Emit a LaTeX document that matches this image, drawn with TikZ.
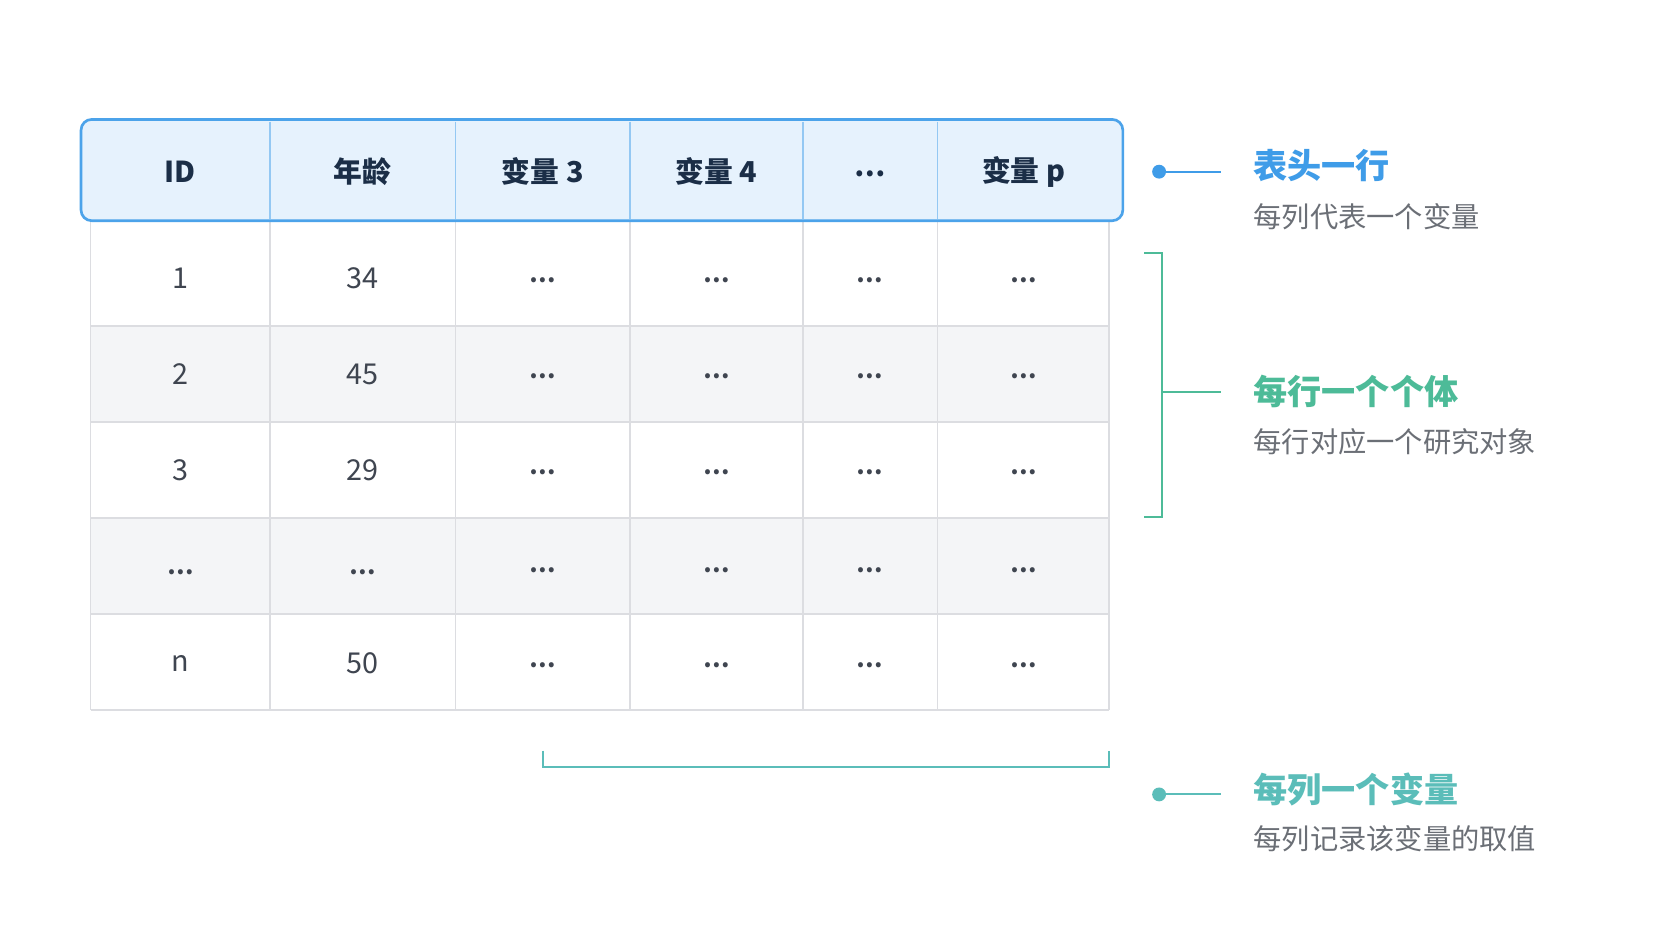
\documentclass[tikz,border=0pt]{standalone}
\usepackage{fontspec}
\setmainfont{Noto Sans CJK SC}
\definecolor{hdrfill}{HTML}{E6F2FD}
\definecolor{hdrline}{HTML}{4CA3EA}
\definecolor{grid}{HTML}{DCDDE1}
\definecolor{altfill}{HTML}{F4F5F7}
\definecolor{hdrtext}{HTML}{1B2E47}
\definecolor{celltext}{HTML}{3F4550}
\definecolor{blueacc}{HTML}{3F9CE8}
\definecolor{greenacc}{HTML}{4DBB98}
\definecolor{tealacc}{HTML}{5BBDB9}
\definecolor{subtext}{HTML}{6B6F76}
\begin{document}
\begin{tikzpicture}[x=1pt,y=-1pt,
  hdr/.style={font=\fontsize{27}{30}\selectfont\bfseries, text=hdrtext},
  cell/.style={font=\fontsize{27}{30}\selectfont, text=celltext},
  dots/.style={font=\fontsize{22}{24}\selectfont\bfseries, text=celltext},
  ttl/.style={anchor=west,font=\fontsize{32}{35}\selectfont\bfseries},
  sub/.style={anchor=west,font=\fontsize{26.5}{29}\selectfont, text=subtext},
  acc/.style={line width=2pt}]
\fill[white] (0,0) rectangle (1568,882);
\useasboundingbox (0,0) rectangle (1568,882);
% body rows
\fill[altfill] (85,306) rectangle (1040,396);
\fill[altfill] (85,486) rectangle (1040,576);
\foreach \y in {306,396,486,576,666} \draw[grid,line width=1.5pt] (85,\y) -- (1040,\y);
\foreach \x in {85,253,427,591,753,879,1040} \draw[grid,line width=1.5pt] (\x,207) -- (\x,666);
% header
\fill[hdrfill,rounded corners=10pt] (76,112) rectangle (1053,207);
\foreach \x in {253,427,591,753,879} \draw[hdrline!60,line width=1.5pt] (\x,114) -- (\x,205);
\draw[hdrline,line width=2.5pt,rounded corners=10pt] (76,112) rectangle (1053,207);
% texts
\node[hdr] (h1) at (169,161) {ID};
\node[hdr] (h2) at (340,161) {年龄};
\node[hdr] (h3) at (509,161) {变量 3};
\node[hdr] (h4) at (672,161) {变量 4};
\node[dots,font=\fontsize{26}{28}\selectfont\bfseries,text=hdrtext] (h5) at (816,163) {…};
\node[hdr] (h6) at (960,161) {变量 p};
\foreach \y/\a/\b [count=\i] in {261/1/34,351/2/45,441/3/29,622/n/50}{
  \node[cell] (r\i c1) at (169,\y) {\a};
  \node[cell] (r\i c2) at (340,\y) {\b};
  \foreach \x [count=\j from 3] in {509,672,816,960}
    \node[dots] (r\i c\j) at (\x,\y+2) {…};
}
\node[dots] (r5c1) at (169,537) {…};
\node[dots] (r5c2) at (340,537) {…};
\foreach \x [count=\j from 3] in {509,672,816,960}
  \node[dots] (r5c\j) at (\x,535) {…};
% annotations
\coordinate (d1) at (1087,161); \coordinate (e1) at (1145,161);
\fill[blueacc] (d1) circle (6.5pt);
\draw[blueacc,acc] (d1) -- (e1);
\node[ttl,text=blueacc] (t1) at (1172,155) {表头一行};
\node[sub] (s1) at (1172,203) {每列代表一个变量};

\coordinate (b1) at (1073,237); \coordinate (b2) at (1090,237);
\coordinate (b3) at (1090,485); \coordinate (b4) at (1073,485);
\coordinate (bm) at (1090,368); \coordinate (e2) at (1145,368);
\draw[greenacc,acc] (b1) -- (b2) -- (b3) -- (b4);
\draw[greenacc,acc] (bm) -- (e2);
\node[ttl,text=greenacc] (t2) at (1172,367) {每行一个个体};
\node[sub] (s2) at (1172,414) {每行对应一个研究对象};

\coordinate (c1) at (509,704); \coordinate (c2) at (509,719);
\coordinate (c3) at (1040,719); \coordinate (c4) at (1040,704);
\draw[tealacc,acc] (c1) -- (c2) -- (c3) -- (c4);
\coordinate (d3) at (1087,745); \coordinate (e3) at (1145,745);
\fill[tealacc] (d3) circle (6.5pt);
\draw[tealacc,acc] (d3) -- (e3);
\node[ttl,text=tealacc] (t3) at (1172,740) {每列一个变量};
\node[sub] (s3) at (1172,787) {每列记录该变量的取值};
\end{tikzpicture}
\end{document}
